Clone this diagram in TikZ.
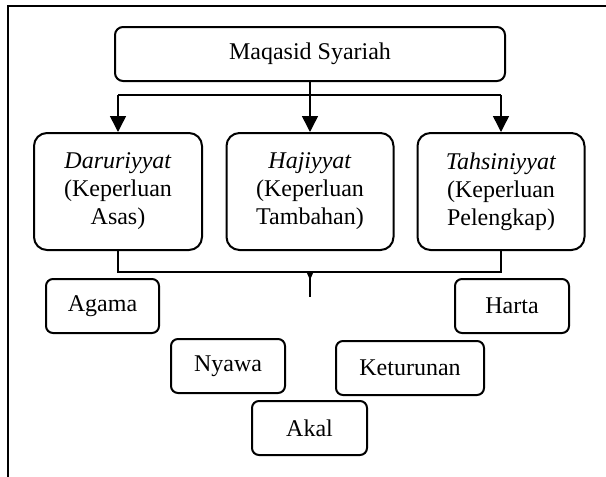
\documentclass[tikz,border=0pt]{standalone}
\usepackage{fontspec}
\setmainfont{Liberation Serif}
\usetikzlibrary{arrows.meta}
\begin{document}
\begin{tikzpicture}[x=0.5pt,y=-0.5pt,
  font=\fontsize{12}{14}\selectfont,
  box/.style={draw,line width=1pt,rounded corners=3.5pt,inner sep=0pt,
    minimum height=27pt,align=center},
  bigbox/.style={draw,line width=1pt,rounded corners=6.5pt,inner sep=0pt,
    minimum height=58.5pt,text width=80pt,align=center},
  conn/.style={line width=0.75pt},
  arr/.style={conn,-{Triangle[length=8pt,width=8pt]}}]
\useasboundingbox (0,0) rectangle (606,477);
% outer frame
\draw[line width=1pt] (8,477) -- (8,6) -- (606,6);
% nodes
\node[box,minimum width=195pt,rounded corners=4pt] (top) at (310,54) {Maqasid Syariah};
\node[bigbox,minimum width=84pt] (d) at (118,191.5) {\textit{Daruriyyat}\\(Keperluan\\Asas)};
\node[bigbox,minimum width=83.5pt] (h) at (310,191.5) {\textit{Hajiyyat}\\(Keperluan\\Tambahan)};
\node[bigbox,minimum width=83.5pt] (t) at (501,191.5) {\textit{Tahsiniyyat}\\(Keperluan\\Pelengkap)};
\node[box,minimum width=56.5pt] (agama) at (102.5,306) {Agama};
\node[box,minimum width=57pt] (harta) at (512,306) {Harta};
\node[box,minimum width=57pt] (nyawa) at (228,366) {Nyawa};
\node[box,minimum width=74pt] (ket) at (410,368) {Keturunan};
\node[box,minimum width=57.5pt] (akal) at (309.5,428) {Akal};
% top connectors
\coordinate (bar) at (310,95);
\draw[arr] (top.south) -- (h.north);
\draw[conn] (bar -| d.north) -- (bar -| t.north);
\draw[arr] (bar -| d.north) -- (d.north);
\draw[arr] (bar -| t.north) -- (t.north);
% bottom bracket
\coordinate (br) at (310,272);
\coordinate (stem) at (310,297);
\draw[conn] (d.south) -- (br -| d.south) -- (br -| t.south) -- (t.south);
\draw[conn] (br) -- (stem);
\fill (br) ++(-3.5,0) -- ++(7,0) -- ++(-3.5,8) -- cycle;
\end{tikzpicture}
\end{document}
